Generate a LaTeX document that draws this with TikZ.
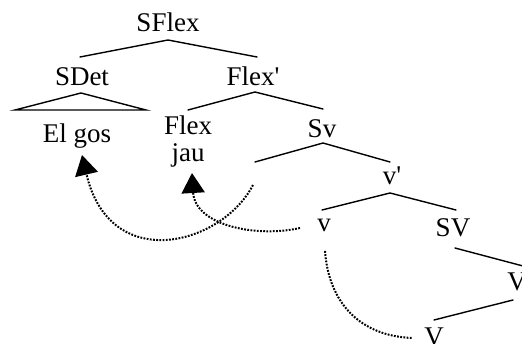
\documentclass[tikz,border=0pt]{standalone}
\usepackage{fontspec}
\newfontfamily\treefont{Liberation Serif}
\usetikzlibrary{arrows.meta}
\begin{document}
\begin{tikzpicture}[x=1pt,y=-1pt,
  lbl/.style={anchor=base,inner sep=0pt,font=\treefont\fontsize{27}{30}\selectfont},
  branch/.style={line width=1.4pt,line cap=round},
  move/.style={line width=2pt,dash pattern=on 1.8pt off 1.4pt,-{Triangle[width=23pt,length=20pt]}},
  movenotip/.style={line width=2pt,dash pattern=on 1.8pt off 1.4pt}]
\useasboundingbox (0,0) rectangle (522,344);
\clip (0,0) rectangle (522,344);
% labels
\node[lbl] (sflex) at (168,32) {SFlex};
\node[lbl] (sdet) at (82,86) {SDet};
\node[lbl] (flexp) at (253,86) {Flex'};
\node[lbl] (elgos) at (77,143) {El gos};
\node[lbl] (flex) at (188,135) {Flex};
\node[lbl] (jau) at (188,162) {jau};
\node[lbl] (sv) at (322,138) {Sv};
\node[lbl] (vp) at (392,185) {v'};
\node[lbl] (vsmall) at (324,232) {v};
\node[lbl] (SV) at (453,237) {SV};
\node[lbl] (Vp) at (517,291) {V};
\node[lbl] (V) at (434,346) {V};
% branch points
\coordinate (a1) at (168,40);  \coordinate (a1l) at (80,57);  \coordinate (a1r) at (257,57);
\coordinate (t0) at (81,93);   \coordinate (tl) at (15,110);  \coordinate (tr) at (146,110);
\coordinate (a2) at (255,92);  \coordinate (a2l) at (188,110); \coordinate (a2r) at (323,109);
\coordinate (a3) at (323,143); \coordinate (a3l) at (255,162); \coordinate (a3r) at (390,162);
\coordinate (a4) at (390,193); \coordinate (a4l) at (322,210); \coordinate (a4r) at (456,210);
\coordinate (a5) at (455,248); \coordinate (a5r) at (523,266);
\coordinate (a6) at (513,300); \coordinate (a6l) at (434,320);
\draw[branch] (a1l) -- (a1) -- (a1r);
\draw[branch] (tl) -- (t0) -- (tr) -- cycle;
\draw[branch] (a2l) -- (a2) -- (a2r);
\draw[branch] (a3l) -- (a3) -- (a3r);
\draw[branch] (a4l) -- (a4) -- (a4r);
\draw[branch] (a5) -- (a5r);
\draw[branch] (a6) -- (a6l);
% movement arrows
\coordinate (m1s) at (253,185); \coordinate (m1e) at (82,155);
\coordinate (m2s) at (300,228); \coordinate (m2e) at (192,173);
\coordinate (m3s) at (325,251); \coordinate (m3e) at (412,338);
\draw[move] (m1s) .. controls (222,245) and (110,275) .. (m1e);
\draw[move] (m2s) .. controls (255,238) and (195,225) .. (m2e);
\draw[movenotip] (m3s) .. controls (329,305) and (362,336) .. (m3e);
\end{tikzpicture}
\end{document}
